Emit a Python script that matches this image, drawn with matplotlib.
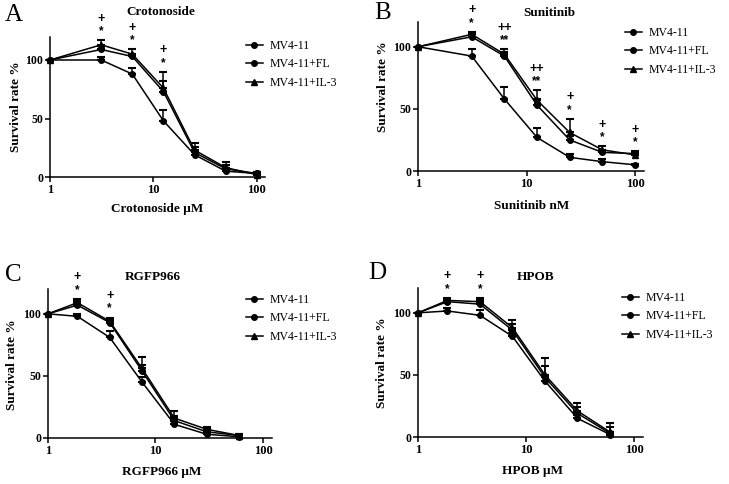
import numpy as np
import matplotlib
matplotlib.use("Agg")
import matplotlib.pyplot as plt
from matplotlib.lines import Line2D

plt.rcParams['font.family'] = ['Liberation Serif', 'DejaVu Serif']

# ---------------- data ----------------
conc_AB = [1, 3.125, 6.25, 12.5, 25, 50, 100]
conc_CD = [1, 1.875, 3.75, 7.5, 15, 30, 60]
series_names = ["MV4-11", "MV4-11+FL", "MV4-11+IL-3"]

# Panel A: Crotonoside
A_mv4 = [100, 100, 88, 48, 19, 5, 3]
A_mv4_err = [0, 2.5, 5.5, 9.5, 3, 2, 1]
A_fl = [100, 109, 103, 73, 21, 7, 3]
A_fl_err = [0, 3, 2, 9, 5, 3, 1]
A_il3 = [100, 113, 105, 76, 23, 8, 2]
A_il3_err = [0, 4, 4, 14, 6, 5, 1]
A_plus = ["", "+", "+", "+", "", "", ""]
A_star = ["", "*", "*", "*", "", "", ""]

# Panel B: Sunitinib
B_mv4 = [100, 92.5, 58, 27, 11, 7.5, 5]
B_mv4_err = [0, 6, 10, 8, 3, 2, 1]
B_fl = [100, 108, 92.5, 53, 25, 15, 14]
B_fl_err = [0, 2, 3, 5, 3, 2, 2]
B_il3 = [100, 110, 94, 57, 31, 17, 13]
B_il3_err = [0, 2, 4, 8, 11, 3, 2]
B_plus = ["", "+", "++", "++", "+", "+", "+"]
B_star = ["", "*", "**", "**", "*", "*", "*"]

# Panel C: RGFP966
C_mv4 = [100, 98, 81, 45, 11, 3, 1]
C_mv4_err = [0, 2, 5, 4, 3, 1, 1]
C_fl = [100, 107, 93, 54, 14, 5, 2]
C_fl_err = [0, 3, 3, 5, 4, 2, 1]
C_il3 = [100, 109, 94, 56, 16, 7, 2]
C_il3_err = [0, 3, 3, 9, 6, 2, 1]
C_plus = ["", "+", "+", "", "", "", ""]
C_star = ["", "*", "*", "", "", "", ""]

# Panel D: HPOB
D_mv4 = [100, 101.5, 98, 81, 45, 15, 2]
D_mv4_err = [0, 2.5, 4, 3, 5, 3, 2]
D_fl = [100, 109, 107, 86, 48, 19, 3]
D_fl_err = [0, 2, 3, 5, 9, 5, 5]
D_il3 = [100, 110, 109, 88, 50, 21, 4]
D_il3_err = [0, 2, 3, 6, 14, 6, 7]
D_plus = ["", "+", "+", "", "", "", ""]
D_star = ["", "*", "*", "", "", "", ""]

titles = ["Crotonoside", "Sunitinib", "RGFP966", "HPOB"]
xlabels = ["Crotonoside \u03bcM", "Sunitinib nM", "RGFP966 \u03bcM", "HPOB \u03bcM"]
letters = ["A", "B", "C", "D"]
ylabel = "Survival rate %"
xticks = [1, 10, 100]
yticks = [0, 50, 100]

# ---------------- layout (pixels) ----------------
W, H = 729, 484
fig = plt.figure(figsize=(W / 100, H / 100), dpi=100)

def add_ax(left, right, top, bottom):
    return fig.add_axes([left / W, 1 - bottom / H, (right - left) / W, (bottom - top) / H])

boxes = [(50, 265, 36.6, 177), (418, 643.6, 21.9, 171),
         (48, 271.5, 289, 438), (418, 642.5, 288, 437)]
title_pos = [(161, 12), (549, 13), (153, 277), (536, 277)]
xlabel_pos = [(157, 209), (532, 206), (162, 472), (532, 471)]
ylabel_pos = [(16, 107), (383, 87), (12, 365), (382, 363)]
letter_pos = [(14, 15), (383, 13), (13, 275), (377, 273)]
legend_pos = [(246, 40), (625, 27), (246, 294), (622, 292)]

panels = [
    (conc_AB, [A_mv4, A_fl, A_il3], [A_mv4_err, A_fl_err, A_il3_err], A_plus, A_star),
    (conc_AB, [B_mv4, B_fl, B_il3], [B_mv4_err, B_fl_err, B_il3_err], B_plus, B_star),
    (conc_CD, [C_mv4, C_fl, C_il3], [C_mv4_err, C_fl_err, C_il3_err], C_plus, C_star),
    (conc_CD, [D_mv4, D_fl, D_il3], [D_mv4_err, D_fl_err, D_il3_err], D_plus, D_star),
]
markers = ["o", "o", "^"]
msizes = [4, 4, 4.8]

for i, (conc, vals, errs, plus, star) in enumerate(panels):
    ax = add_ax(*boxes[i])
    x = np.array(conc, dtype=float)
    for v, e, m, ms in zip(vals, errs, markers, msizes):
        v = np.array(v, float); e = np.array(e, float)
        ax.errorbar(x, v, yerr=[np.zeros_like(e), e], fmt='none', ecolor='k',
                    elinewidth=1.1, capsize=3, capthick=1.5, clip_on=False, zorder=2)
        ax.plot(x, v, color='k', lw=1.1, marker=m, ms=ms, clip_on=False, zorder=3)
    tops = np.max([np.array(v) + np.array(e) for v, e in zip(vals, errs)], axis=0)
    for xi, ti, p, s in zip(x, tops, plus, star):
        if s:
            ax.annotate(s, (xi, ti), xytext=(0, 6.5), textcoords='offset points',
                        ha='center', va='center', fontsize=8.5, fontweight='bold',
                        family=['Liberation Sans'], annotation_clip=False)
        if p:
            ax.annotate(p, (xi, ti), xytext=(0, 15.5), textcoords='offset points',
                        ha='center', va='center', fontsize=9, fontweight='bold',
                        family=['Liberation Sans'], annotation_clip=False)
    ax.set_xscale('log')
    ax.set_xlim(1, 120)
    ax.set_ylim(0, 120)
    ax.set_xticks(xticks)
    ax.set_xticklabels([str(t) for t in xticks])
    ax.xaxis.set_minor_locator(matplotlib.ticker.NullLocator())
    ax.set_yticks(yticks)
    ax.set_yticklabels([str(t) for t in yticks])
    for lab in ax.get_xticklabels():
        lab.set_fontweight('bold'); lab.set_fontsize(9)
    for lab in ax.get_yticklabels():
        lab.set_fontweight('bold'); lab.set_fontsize(8.5)
    ax.tick_params(length=3.5, width=1.1, pad=1.5)
    for sp in ['top', 'right']:
        ax.spines[sp].set_visible(False)
    for sp in ['left', 'bottom']:
        ax.spines[sp].set_linewidth(1.1)
    ax.patch.set_alpha(0)

    handles = [Line2D([], [], color='k', lw=1.1, marker=m, ms=ms) for m, ms in zip(markers, msizes)]
    lx, ly = legend_pos[i]
    fig.legend(handles, series_names, loc='upper left', bbox_to_anchor=(lx / W, 1 - ly / H),
               frameon=False, fontsize=8.5, handlelength=1.4, handletextpad=0.6,
               labelspacing=0.55, borderaxespad=0, borderpad=0)

    tx, ty = title_pos[i]
    fig.text(tx / W, 1 - ty / H, titles[i], ha='center', va='center', fontsize=9.5, fontweight='bold')
    xx, xy = xlabel_pos[i]
    fig.text(xx / W, 1 - xy / H, xlabels[i], ha='center', va='center', fontsize=9.5, fontweight='bold')
    yx, yy = ylabel_pos[i]
    fig.text(yx / W, 1 - yy / H, ylabel, ha='center', va='center', rotation=90, fontsize=9.5, fontweight='bold')
    lx2, ly2 = letter_pos[i]
    fig.text(lx2 / W, 1 - ly2 / H, letters[i], ha='center', va='center', fontsize=18)

fig.savefig("out.png", dpi=100)
